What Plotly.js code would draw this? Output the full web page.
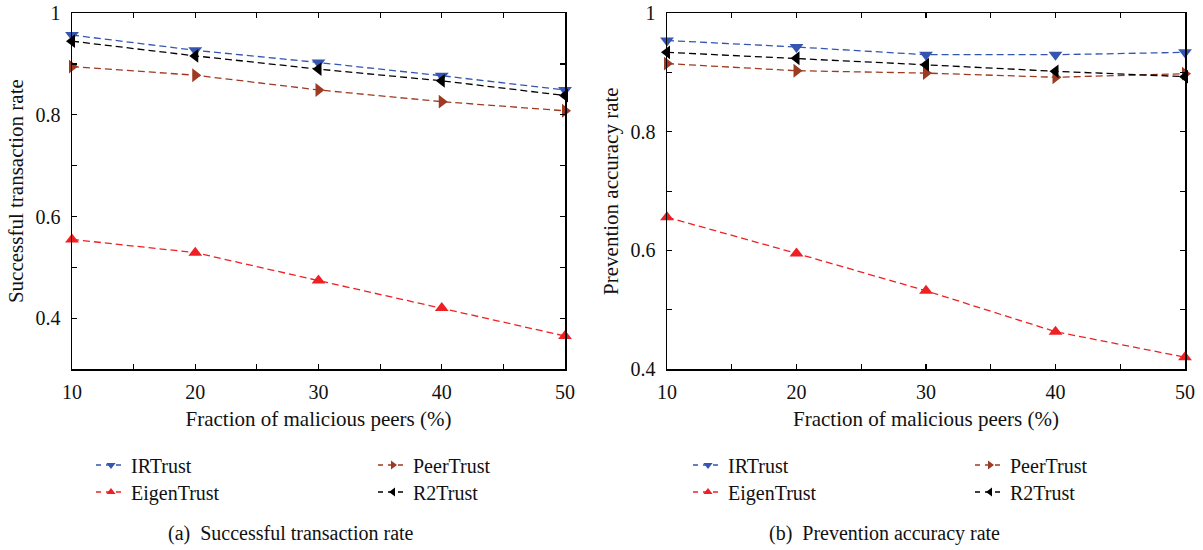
<!DOCTYPE html>
<html>
<head>
<meta charset="utf-8">
<script src="https://cdn.plot.ly/plotly-3.0.1.min.js"></script>
<style>html,body{margin:0;padding:0;background:#fff;}#chart{width:1203px;height:550px;}</style>
</head>
<body>
<div id="chart"></div>
<script>
// Data
const fraction = [10, 20, 30, 40, 50];
const seriesNames = ['IRTrust', 'PeerTrust', 'EigenTrust', 'R2Trust'];
// (a) Successful transaction rate
const successIRTrust    = [0.957, 0.927, 0.903, 0.877, 0.849];
const successPeerTrust  = [0.895, 0.878, 0.849, 0.826, 0.808];
const successEigenTrust = [0.555, 0.529, 0.474, 0.420, 0.365];
const successR2Trust    = [0.945, 0.916, 0.890, 0.867, 0.838];
// (b) Prevention accuracy rate
const preventIRTrust    = [0.954, 0.943, 0.930, 0.930, 0.934];
const preventPeerTrust  = [0.915, 0.903, 0.899, 0.892, 0.898];
const preventEigenTrust = [0.656, 0.595, 0.532, 0.463, 0.420];
const preventR2Trust    = [0.934, 0.924, 0.913, 0.902, 0.893];
// tick labels
const xTickVals = [10, 15, 20, 25, 30, 35, 40, 45, 50];
const xTickText = ['10', '', '20', '', '30', '', '40', '', '50'];
const yTickValsA = [0.3, 0.4, 0.5, 0.6, 0.7, 0.8, 0.9, 1.0];
const yTickTextA = ['', '0.4', '', '0.6', '', '0.8', '', '1'];
const yTickValsB = [0.4, 0.5, 0.6, 0.7, 0.8, 0.9, 1.0];
const yTickTextB = ['0.4', '', '0.6', '', '0.8', '', '1'];

const styles = {
  IRTrust:    {color: '#3556b0', symbol: 'triangle-down'},
  PeerTrust:  {color: '#9e3a22', symbol: 'triangle-right'},
  EigenTrust: {color: '#ee2024', symbol: 'triangle-up'},
  R2Trust:    {color: '#000000', symbol: 'triangle-left'}
};
const dataA = {IRTrust: successIRTrust, PeerTrust: successPeerTrust, EigenTrust: successEigenTrust, R2Trust: successR2Trust};
const dataB = {IRTrust: preventIRTrust, PeerTrust: preventPeerTrust, EigenTrust: preventEigenTrust, R2Trust: preventR2Trust};
// legend grid: [column, row]
const legendPos = {IRTrust: [0, 0], PeerTrust: [1, 0], EigenTrust: [0, 1], R2Trust: [1, 1]};

const traces = [];
const legends = {};
let legendCount = 0;
const FONT = "'Liberation Serif', 'Times New Roman', serif";
function addPanel(data, xa, ya, colX) {
  seriesNames.forEach(n => {
    traces.push({x: fraction, y: data[n], name: n, type: 'scatter', mode: 'lines+markers',
      xaxis: xa, yaxis: ya, showlegend: false, cliponaxis: false,
      line: {color: styles[n].color, dash: '7px,4px', width: 1.3},
      marker: {color: styles[n].color, symbol: styles[n].symbol, size: 12}});
  });
  // legend-only entries with small markers, as in the reference legend
  seriesNames.forEach(n => {
    legendCount += 1;
    const id = legendCount === 1 ? 'legend' : 'legend' + legendCount;
    const [c, r] = legendPos[n];
    legends[id] = {orientation: 'v', xanchor: 'left', x: colX[c] / 1203, yanchor: 'middle', y: 1 - (465 + 27 * r) / 550,
      font: {size: 20}, bgcolor: 'rgba(0,0,0,0)', itemwidth: 30, tracegroupgap: 0};
    traces.push({x: [null], y: [null], name: n, type: 'scatter', mode: 'lines+markers',
      xaxis: xa, yaxis: ya, showlegend: true, legend: id,
      line: {color: styles[n].color, dash: '5px,5px', width: 1.3},
      marker: {color: styles[n].color, symbol: styles[n].symbol, size: 8}});
  });
}
addPanel(dataA, 'x', 'y', [91, 373]);
addPanel(dataB, 'x2', 'y2', [688, 970]);

function xAxis(domain, anchor) {
  return {domain: domain, anchor: anchor, range: [10, 50], tickmode: 'array', tickvals: xTickVals, ticktext: xTickText,
    ticks: 'inside', ticklen: 5, tickwidth: 1.2, tickcolor: '#000', showline: true, linecolor: '#000', linewidth: 1.5,
    mirror: 'ticks', showgrid: false, zeroline: false, tickfont: {size: 20}, ticklabelstandoff: 4,
    title: {text: 'Fraction of malicious peers (%)', font: {size: 21}, standoff: 10}};
}
function yAxis(range, tv, tt, anchor, title) {
  return {domain: [0.329, 0.976], anchor: anchor, range: range, tickmode: 'array', tickvals: tv, ticktext: tt,
    ticks: 'inside', ticklen: 5, tickwidth: 1.2, tickcolor: '#000', showline: true, linecolor: '#000', linewidth: 1.5,
    mirror: 'ticks', showgrid: false, zeroline: false, tickfont: {size: 20}, ticklabelstandoff: 6,
    title: {text: title, font: {size: 21}, standoff: 6}};
}
const layout = Object.assign({
  width: 1203, height: 550, margin: {l: 0, r: 0, t: 0, b: 0},
  paper_bgcolor: '#fff', plot_bgcolor: '#fff', font: {family: FONT, color: '#111'}, showlegend: true,
  xaxis: xAxis([72 / 1203, 565 / 1203], 'y'),
  yaxis: yAxis([0.3, 1], yTickValsA, yTickTextA, 'x', 'Successful transaction rate'),
  xaxis2: xAxis([667 / 1203, 1185 / 1203], 'y2'),
  yaxis2: yAxis([0.4, 1], yTickValsB, yTickTextB, 'x2', 'Prevention accuracy rate'),
  annotations: [
    {text: '(a)  Successful transaction rate', xref: 'paper', yref: 'paper', x: 291 / 1203, y: 1 - 533 / 550, yanchor: 'middle', xanchor: 'center', showarrow: false, font: {size: 20}},
    {text: '(b)  Prevention accuracy rate', xref: 'paper', yref: 'paper', x: 884 / 1203, y: 1 - 533 / 550, yanchor: 'middle', xanchor: 'center', showarrow: false, font: {size: 20}}
  ]
}, legends);
Plotly.newPlot('chart', traces, layout, {staticPlot: true, displayModeBar: false});
</script>
</body>
</html>
